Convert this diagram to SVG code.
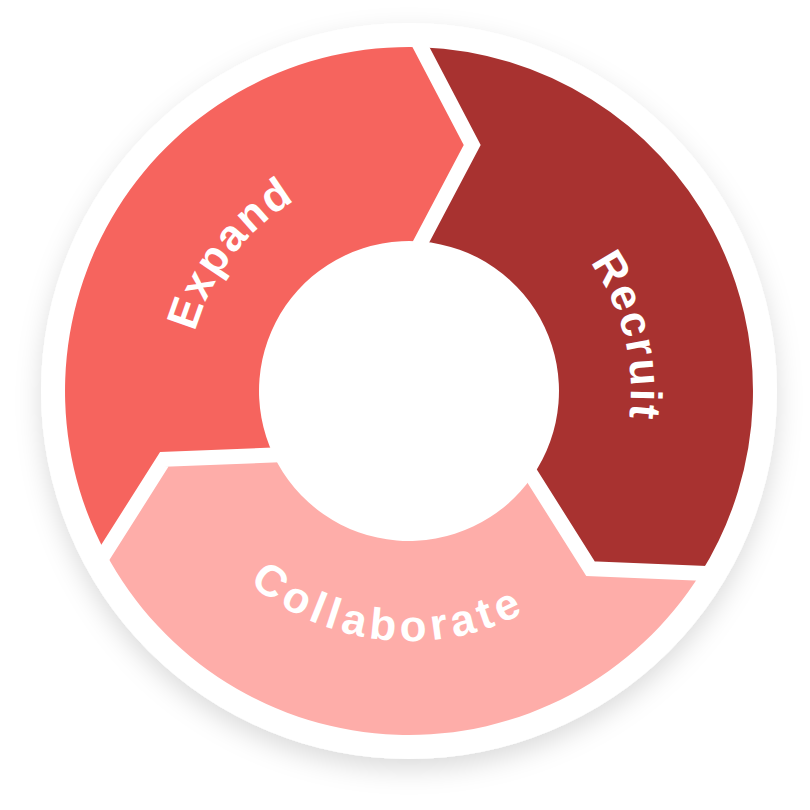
<svg xmlns="http://www.w3.org/2000/svg" xmlns:xlink="http://www.w3.org/1999/xlink" width="810" height="810" viewBox="0 0 810 810">
  <style>
    .seg-label { font-family: "Liberation Sans", Arial, sans-serif; font-weight: bold; font-size: 44px; fill: #FFFFFF; }
    .gap { fill: none; stroke: #FFFFFF; stroke-width: 15; stroke-linejoin: miter; stroke-linecap: butt; }
  </style>
  <defs>
    <filter id="shadow" x="-20%" y="-20%" width="140%" height="140%">
      <feDropShadow dx="0" dy="10" stdDeviation="13" flood-color="#000000" flood-opacity="0.14"/>
    </filter>
    <path id="arc-expand" d="M 203.9 476.0 A 222 222 0 0 1 438.0 170.9"/>
    <path id="arc-recruit" d="M 470.2 177.6 A 222 222 0 0 1 563.2 550.7"/>
    <path id="arc-collab" d="M 181.1 493.9 A 250 250 0 0 0 612.0 536.9"/>
  </defs>
  <rect width="810" height="810" fill="#FFFFFF"/>
  <circle id="disc" cx="409" cy="391" r="368" fill="#FFFFFF" filter="url(#shadow)"/>

  <g id="expand">
    <path d="M 105.3 552.5 A 344 344 0 0 1 421.0 47.2 L 472.2 145.0 L 421.3 241.5 A 150 150 0 0 0 273.4 455.1 L 164.3 459.3 Z" fill="#F6645E"/>
    <text class="seg-label" letter-spacing="2"><textPath xlink:href="#arc-expand" href="#arc-expand" startOffset="50%" text-anchor="middle">Expand</textPath></text>
  </g>
  <g id="recruit">
    <path d="M 421.0 47.2 A 344 344 0 0 1 700.7 573.3 L 590.5 568.7 L 532.3 476.4 A 150 150 0 0 0 421.3 241.5 L 472.2 145.0 Z" fill="#A83230"/>
    <text class="seg-label" letter-spacing="2"><textPath xlink:href="#arc-recruit" href="#arc-recruit" startOffset="50%" text-anchor="middle">Recruit</textPath></text>
  </g>
  <g id="collaborate">
    <path d="M 700.7 573.3 A 344 344 0 0 1 105.3 552.5 L 164.3 459.3 L 273.4 455.1 A 150 150 0 0 0 532.3 476.4 L 590.5 568.7 Z" fill="#FEADA9"/>
    <text class="seg-label" letter-spacing="5"><textPath xlink:href="#arc-collab" href="#arc-collab" startOffset="50%" text-anchor="middle">Collaborate</textPath></text>
  </g>

  <g id="connectors">
    <polyline class="gap" points="415.4,36.6 472.2,145.0 415.7,252.1"/>
    <polyline class="gap" points="712.7,573.8 590.5,568.7 525.9,466.2"/>
    <polyline class="gap" points="98.9,562.6 164.3,459.3 285.4,454.6"/>
  </g>
</svg>
